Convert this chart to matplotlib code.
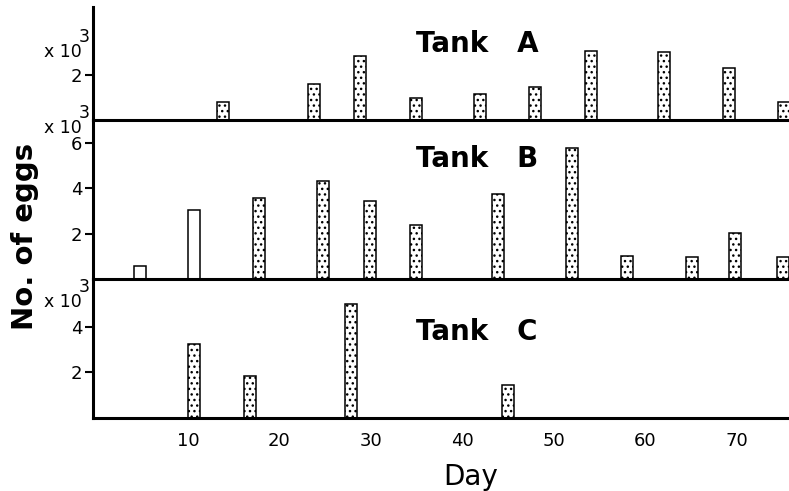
import numpy as np
import matplotlib
matplotlib.use('Agg')
import matplotlib.pyplot as plt

# egg counts (x 10^3) per spawning day
days_a = [13.8, 23.8, 28.8, 34.9, 41.9, 47.9, 54.0, 62.0, 69.1, 75.1]
eggs_a = [0.81, 1.59, 2.81, 0.96, 1.14, 1.45, 3.07, 3.00, 2.32, 0.81]
open_a = [False, False, False, False, False, False, False, False, False, False]

days_b = [4.75, 10.7, 17.8, 24.8, 29.9, 34.9, 43.9, 52.0, 58.0, 65.1, 69.8, 75.0]
eggs_b = [0.58, 3.04, 3.56, 4.33, 3.45, 2.39, 3.73, 5.75, 1.04, 0.97, 2.02, 0.97]
open_b = [True, True, False, False, False, False, False, False, False, False, False, False]

days_c = [10.7, 16.8, 27.8, 45.0]
eggs_c = [3.26, 1.84, 4.99, 1.46]
open_c = [False, False, False, False]

tanks = ['A', 'B', 'C']
yticks = [[2], [2, 4, 6], [2, 4]]
ytops = [5.0, 7.0, 6.1]
xticks = [10, 20, 30, 40, 50, 60, 70]

W, H = 789, 491
def fx(x): return x / W
def fy(y): return 1 - y / H

plt.rcParams['font.family'] = 'DejaVu Sans'
plt.rcParams['hatch.linewidth'] = 1.0
plt.rcParams['hatch.color'] = 'black'

fig = plt.figure(figsize=(7.89, 4.91), dpi=100)

# panel edges in pixels (top, bottom)
edges = [(7, 120), (120, 279.3), (279.3, 417.7)]
data = [(days_a, eggs_a, open_a), (days_b, eggs_b, open_b), (days_c, eggs_c, open_c)]

axes = []
for i, (top, bot) in enumerate(edges):
    ax = fig.add_axes([fx(93), fy(bot), 1 - fx(93), (bot - top) / H])
    d, e, op = data[i]
    for x, h, o in zip(d, e, op):
        ax.bar(x, h, width=1.3, facecolor='white', edgecolor='black',
               linewidth=1.1, hatch=None if o else '...', zorder=2)
    ax.set_xlim(-0.38, 75.68)
    ax.set_ylim(0, ytops[i])
    ax.set_yticks(yticks[i])
    ax.set_yticklabels([str(t) for t in yticks[i]], fontsize=13)
    ax.tick_params(axis='y', direction='out', length=6, width=1.5, pad=1.5)
    for s in ['top', 'right']:
        ax.spines[s].set_visible(False)
    ax.spines['left'].set_linewidth(2.2)
    ax.spines['bottom'].set_linewidth(2.2)
    ax.patch.set_alpha(0)
    if i < 2:
        ax.set_xticks([])
    else:
        ax.set_xticks(xticks)
        ax.set_xticklabels([str(t) for t in xticks], fontsize=13)
        ax.tick_params(axis='x', length=0, pad=10)
    axes.append(ax)

# panel titles
title_base = [52, 167, 340]
for i, t in enumerate(tanks):
    fig.text(fx(416), fy(title_base[i]), 'Tank   ' + t, fontsize=20,
             fontweight='bold', va='baseline', ha='left')

# "x 10^3" scale labels (baselines in pixels)
scale_base = [57, 133, 307]
for y in scale_base:
    fig.text(fx(82), fy(y), 'x 10', fontsize=12.5, ha='right', va='baseline')
    fig.text(fx(79), fy(y - 15), '3', fontsize=12.5, ha='left', va='baseline')

fig.text(fx(25), fy(236.5), 'No. of eggs', fontsize=21, fontweight='bold',
         rotation=90, ha='center', va='center')
fig.text(fx(471), fy(485), 'Day', fontsize=20, ha='center', va='baseline')

plt.savefig('out.png', dpi=100)
plt.close()
